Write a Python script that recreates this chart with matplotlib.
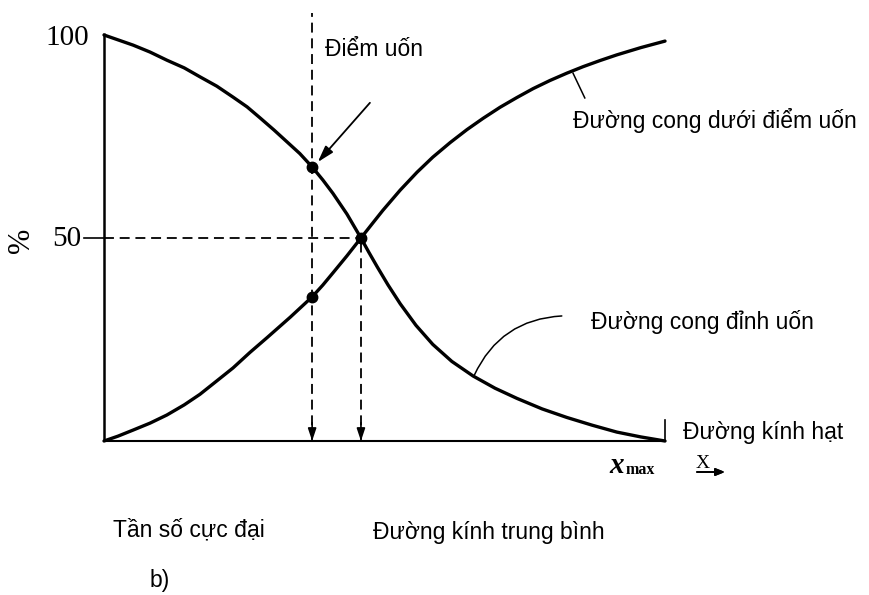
import matplotlib.pyplot as plt

# cumulative curves, x as fraction of x_max, y in percent
x_dec = [0, 0.025, 0.052, 0.082, 0.112, 0.143, 0.171, 0.201, 0.230, 0.255,
         0.278, 0.303, 0.326, 0.349, 0.371, 0.390, 0.408, 0.433, 0.458, 0.472,
         0.487, 0.506, 0.528, 0.556, 0.586, 0.620, 0.658, 0.697, 0.736, 0.781,
         0.825, 0.870, 0.914, 0.957, 1.0]
y_dec = [100, 98.8, 97.5, 95.8, 93.8, 91.9, 89.7, 87.4, 84.7, 82.3,
         79.6, 76.6, 73.7, 70.8, 67.5, 64.3, 61.0, 55.9, 50.0, 46.5,
         42.9, 38.5, 33.8, 28.5, 23.8, 19.6, 16.0, 13.0, 10.5, 7.9,
         5.8, 3.9, 2.2, 1.0, 0]
x_inc = [0, 0.025, 0.052, 0.082, 0.112, 0.143, 0.171, 0.201, 0.230, 0.260,
         0.291, 0.332, 0.371, 0.390, 0.408, 0.433, 0.458, 0.478, 0.497, 0.528,
         0.558, 0.586, 0.617, 0.647, 0.676, 0.706, 0.736, 0.765, 0.795, 0.825,
         0.854, 0.884, 0.914, 0.957, 1.0]
y_inc = [0, 1.2, 2.7, 4.4, 6.4, 8.9, 11.5, 14.8, 18.0, 21.8,
         25.5, 30.5, 35.5, 38.4, 41.4, 45.6, 50.0, 53.5, 56.8, 61.8,
         66.2, 69.9, 73.5, 76.7, 79.5, 82.2, 84.6, 86.8, 88.8, 90.6,
         92.2, 93.7, 95.1, 96.9, 98.5]

x_mode = 0.371      # tan so cuc dai
x_median = 0.458    # duong kinh trung binh
y_mode_dec = 67.5
y_mode_inc = 35.5
y_median = 50
x_max = 1.0

SANS = ['Liberation Sans', 'DejaVu Sans']
SERIF = ['Liberation Serif', 'DejaVu Serif']

fig = plt.figure(figsize=(8.69, 5.95), dpi=100)
ax = fig.add_axes([0, 0, 1, 1])
ax.set_xlim(-0.1854, 1.3636)
ax.set_ylim(-37.93, 108.62)
ax.axis('off')

# axes
ax.plot([0, 0], [0, 100.5], color='black', lw=1.8, solid_capstyle='butt')
ax.plot([0, x_max], [0, 0], color='black', lw=1.5, solid_capstyle='butt')
ax.plot([x_max, x_max], [0, 5.2], color='black', lw=1.2)
ax.plot([-0.035, 0], [50, 50], color='black', lw=1.2)

# curves
ax.plot(x_dec, y_dec, color='black', lw=2.4, solid_joinstyle='round',
        solid_capstyle='round')
ax.plot(x_inc, y_inc, color='black', lw=2.4, solid_joinstyle='round',
        solid_capstyle='round')

# guide lines
dash = (0, (5.5, 3.2))
ax.plot([x_mode, x_mode], [0, 105.5], color='black', lw=1.3, linestyle=dash)
ax.plot([x_median, x_median], [0, y_median], color='black', lw=1.3, linestyle=dash)
ax.plot([0, x_median], [y_median, y_median], color='black', lw=1.3, linestyle=dash)
for xv in (x_mode, x_median):
    ax.annotate('', xy=(xv, 0), xytext=(xv, 4.5),
                arrowprops=dict(arrowstyle='-|>,head_length=0.75,head_width=0.25',
                                color='black', lw=1.2, shrinkA=0, shrinkB=0))

# points
ax.plot([x_mode, x_mode, x_median], [y_mode_dec, y_mode_inc, y_median],
        'o', color='black', ms=7.5)

# arrow to inflection point
ax.annotate('', xy=(0.381, 68.7), xytext=(0.474, 83.3),
            arrowprops=dict(arrowstyle='-|>,head_length=1.0,head_width=0.3',
                            color='black', lw=1.3, shrinkA=0, shrinkB=0))

# leader lines for curve labels
ax.plot([0.836, 0.857], [90.6, 84.5], color='black', lw=1.1)
ax.annotate('', xy=(0.816, 30.8), xytext=(0.660, 16.2),
            arrowprops=dict(arrowstyle='-', color='black', lw=1.1,
                            shrinkA=0, shrinkB=0,
                            connectionstyle='arc3,rad=-0.3'))


def px(x, y):
    return x / 869, 1 - y / 595


fs = 16.5
fig.text(*px(89, 38), '100', family=SERIF, fontsize=21, ha='right', va='center')
fig.text(*px(81, 239), '50', family=SERIF, fontsize=21, ha='right', va='center')
fig.text(*px(21, 240), '%', family=SERIF, fontsize=22, ha='center', va='center',
         rotation=90)
fig.text(*px(325, 49), 'Điểm uốn', family=SANS, fontsize=fs, ha='left', va='center')
fig.text(*px(573, 121), 'Đường cong dưới điểm uốn', family=SANS, fontsize=fs,
         ha='left', va='center')
fig.text(*px(591, 322), 'Đường cong đỉnh uốn', family=SANS, fontsize=fs,
         ha='left', va='center')
fig.text(*px(683, 432), 'Đường kính hạt', family=SANS, fontsize=fs,
         ha='left', va='center')
fig.text(*px(113, 530), 'Tần số cực đại', family=SANS, fontsize=fs,
         ha='left', va='center')
fig.text(*px(373, 533), 'Đường kính trung bình', family=SANS, fontsize=fs,
         ha='left', va='center')
fig.text(*px(150, 580), 'b)', family=SANS, fontsize=fs, ha='left', va='center')

# x_max label
fig.text(*px(609, 473), 'x', family=SERIF, fontsize=21, style='italic',
         weight='bold', ha='left', va='baseline')
fig.text(*px(626, 474), 'max', family=SERIF, fontsize=11.5, weight='bold',
         ha='left', va='baseline')

# X with arrow
fig.text(*px(696, 468), 'X', family=SERIF, fontsize=14, ha='left', va='baseline')
fig.add_artist(plt.annotate('', xy=px(725, 472), xytext=px(697, 472),
                            xycoords='figure fraction', textcoords='figure fraction',
                            arrowprops=dict(arrowstyle='-|>,head_length=0.55,head_width=0.22',
                                            color='black', lw=1.3,
                                            shrinkA=0, shrinkB=0)))

fig.savefig('out.png', dpi=100)
